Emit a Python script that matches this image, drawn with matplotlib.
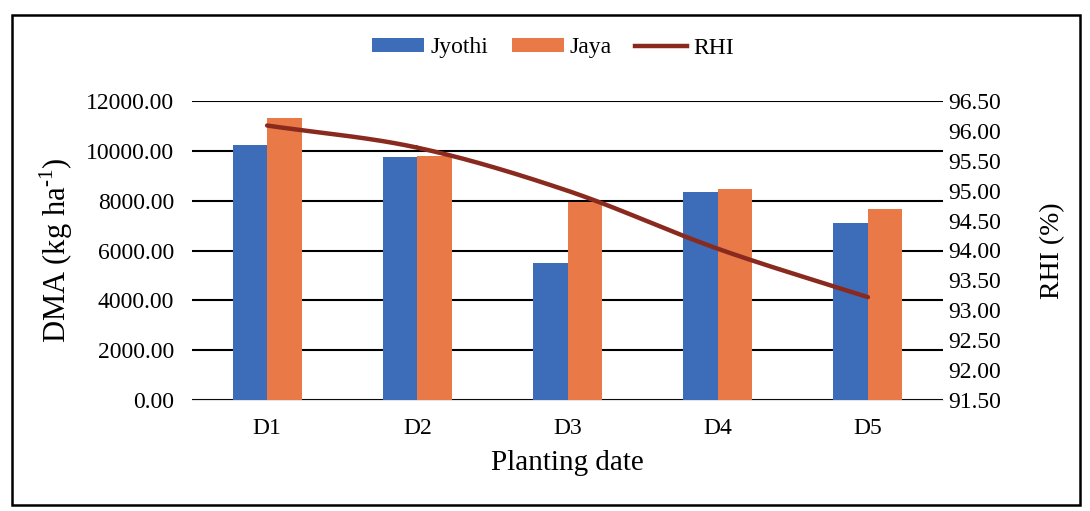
import numpy as np
import matplotlib
matplotlib.use("Agg")
import matplotlib.pyplot as plt
from matplotlib.patches import Rectangle, Patch
from matplotlib.lines import Line2D

plt.rcParams['font.family'] = ['Liberation Serif', 'DejaVu Serif']
plt.rcParams['mathtext.fontset'] = 'custom'
plt.rcParams['mathtext.rm'] = 'Liberation Serif'

# Data
dates = ["D1", "D2", "D3", "D4", "D5"]
jyothi = [10230, 9750, 5500, 8330, 7090]
jaya = [11310, 9800, 7960, 8460, 7670]
rhi = [96.09, 95.72, 95.00, 94.03, 93.22]

dma_ticks = [0, 2000, 4000, 6000, 8000, 10000, 12000]
rhi_ticks = [91.5, 92.0, 92.5, 93.0, 93.5, 94.0, 94.5, 95.0, 95.5, 96.0, 96.5]

c_jyothi = "#3D6CB8"
c_jaya = "#E97A47"
c_rhi = "#8A2A1E"

TICK_FS = 17


def catmull_rom(xs, ys, n=40):
    """Smooth curve through the given points (Catmull-Rom spline)."""
    px = np.concatenate([[2 * xs[0] - xs[1]], xs, [2 * xs[-1] - xs[-2]]])
    py = np.concatenate([[2 * ys[0] - ys[1]], ys, [2 * ys[-1] - ys[-2]]])
    out_x, out_y = [], []
    t = np.linspace(0, 1, n)
    for i in range(1, len(px) - 2):
        p0, p1, p2, p3 = px[i - 1], px[i], px[i + 1], px[i + 2]
        q0, q1, q2, q3 = py[i - 1], py[i], py[i + 1], py[i + 2]
        bx = 0.5 * ((2 * p1) + (-p0 + p2) * t + (2 * p0 - 5 * p1 + 4 * p2 - p3) * t**2
                    + (-p0 + 3 * p1 - 3 * p2 + p3) * t**3)
        by = 0.5 * ((2 * q1) + (-q0 + q2) * t + (2 * q0 - 5 * q1 + 4 * q2 - q3) * t**2
                    + (-q0 + 3 * q1 - 3 * q2 + q3) * t**3)
        out_x.extend(bx)
        out_y.extend(by)
    return np.array(out_x), np.array(out_y)


fig = plt.figure(figsize=(10.9, 5.11), dpi=100)
ax = fig.add_axes([192 / 1090, 1 - 400 / 511, 751 / 1090, 299 / 511])

x = np.arange(len(dates))
w = 0.23
ax.bar(x - w / 2, jyothi, width=w, color=c_jyothi, zorder=3)
ax.bar(x + w / 2, jaya, width=w, color=c_jaya, zorder=3)

ax.set_ylim(0, 12000)
ax.set_xlim(-0.5, len(dates) - 0.5)
ax.set_yticks(dma_ticks)
ax.set_yticklabels([f"{v:.2f}" for v in dma_ticks], fontsize=TICK_FS)
ax.set_xticks(x)
ax.set_xticklabels(dates, fontsize=TICK_FS)
ax.yaxis.grid(True, color="black", linewidth=1.5, zorder=0)
ax.set_axisbelow(True)
ax.tick_params(axis="y", length=0, pad=13)
ax.tick_params(axis="x", length=0, pad=13)
for s in ["top", "right", "left"]:
    ax.spines[s].set_visible(False)
ax.spines["bottom"].set_color("#e4e4e4")
ax.set_ylabel("DMA (kg ha$^{\\text{-1}}$)", fontsize=22, labelpad=8)
ax.set_xlabel("Planting date", fontsize=21, labelpad=8)

ax2 = ax.twinx()
ax2.set_ylim(91.5, 96.5)
ax2.set_yticks(rhi_ticks)
ax2.set_yticklabels([f"{v:.2f}" for v in rhi_ticks], fontsize=TICK_FS)
ax2.tick_params(axis="y", length=0, pad=4)
for s in ax2.spines.values():
    s.set_visible(False)
ax2.set_ylabel("RHI (%)", fontsize=20, labelpad=28)

sx, sy = catmull_rom(x.astype(float), np.array(rhi, dtype=float))
ax2.plot(sx, sy, color=c_rhi, linewidth=3.2, solid_capstyle="round", zorder=4)

handles = [
    Patch(facecolor=c_jyothi, label="Jyothi"),
    Patch(facecolor=c_jaya, label="Jaya"),
    Line2D([0], [0], color=c_rhi, linewidth=3.2, label="RHI"),
]
fig.legend(handles=handles, loc="center", bbox_to_anchor=(553 / 1090, 1 - 48 / 511), ncol=3,
           frameon=False, fontsize=17, handlelength=2.2, handleheight=0.5,
           columnspacing=1.0, handletextpad=0.25)

# outer frame around the chart
fig.patches.append(Rectangle((12 / 1090, 6 / 511), 1068 / 1090, 490 / 511,
                             transform=fig.transFigure, fill=False,
                             edgecolor="black", linewidth=1.8))

fig.savefig("out.png", dpi=100)
